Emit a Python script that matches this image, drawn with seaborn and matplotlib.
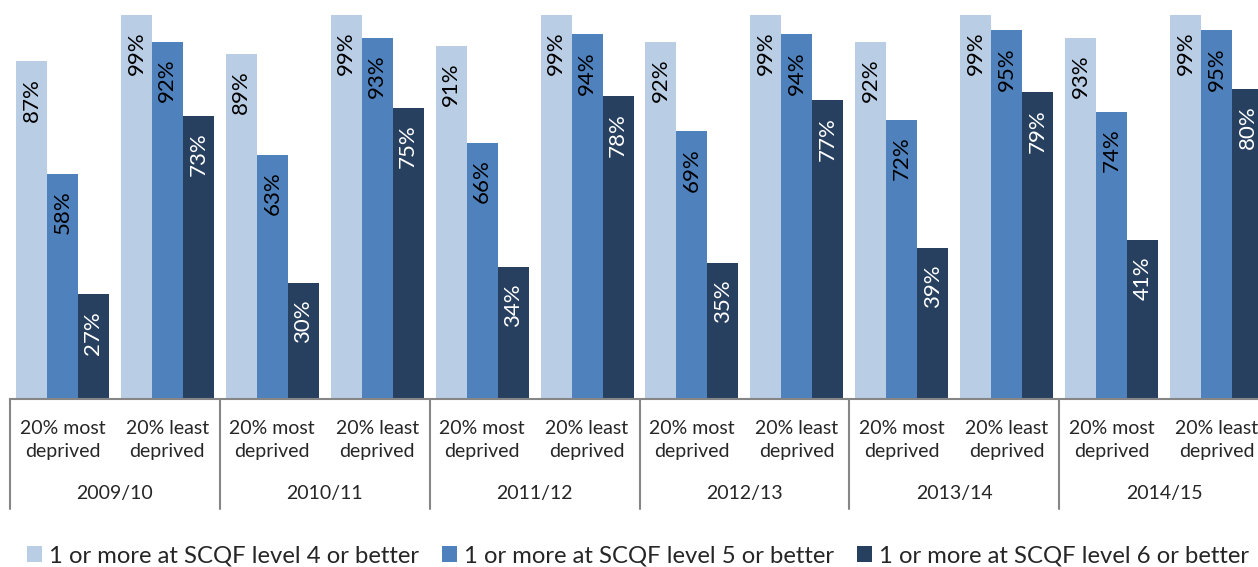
import pandas as pd
import numpy as np
import seaborn as sns
import matplotlib.pyplot as plt
import matplotlib.transforms as mtransforms

# Dados do gráfico (percentagens)
years = ['2009/10', '2010/11', '2011/12', '2012/13', '2013/14', '2014/15']
groups = ['20% most\ndeprived', '20% least\ndeprived']
series = ['1 or more at SCQF level 4 or better',
          '1 or more at SCQF level 5 or better',
          '1 or more at SCQF level 6 or better']

lvl4_most = [87, 89, 91, 92, 92, 93]
lvl4_least = [99, 99, 99, 99, 99, 99]
lvl5_most = [58, 63, 66, 69, 72, 74]
lvl5_least = [92, 93, 94, 94, 95, 95]
lvl6_most = [27, 30, 34, 35, 39, 41]
lvl6_least = [73, 75, 78, 77, 79, 80]

colors = ['#B9CDE5', '#4F81BD', '#27405F']
label_colors = ['black', 'black', 'white']

# Montar tabela longa
rows = []
values = {series[0]: (lvl4_most, lvl4_least),
          series[1]: (lvl5_most, lvl5_least),
          series[2]: (lvl6_most, lvl6_least)}
order = []
for i, y in enumerate(years):
    for j, g in enumerate(groups):
        cat = f'{y}|{j}'
        order.append(cat)
        for s in series:
            rows.append({'cat': cat, 'serie': s, 'valor': values[s][j][i] / 100})
df = pd.DataFrame(rows)

sns.set_style('white')
plt.rcParams['font.family'] = ['Lato', 'DejaVu Sans']

fig = plt.figure(figsize=(12.58, 5.67), dpi=100)
W, H = 1258, 567
ax = fig.add_axes([10 / W, (H - 399) / H, 1259 / W, 388 / H])

sns.barplot(data=df, x='cat', y='valor', hue='serie', order=order, hue_order=series,
            palette=colors, width=0.886, saturation=1, ax=ax, errorbar=None,
            edgecolor='none')
ax.set_ylim(0, 1.0)
ax.set_xlim(-0.5, 11.5)

# Rótulos dos dados (rotacionados dentro da barra)
for k, cont in enumerate(ax.containers):
    for bar in cont:
        h = bar.get_height()
        ax.annotate(f'{h * 100:.0f}%', (bar.get_x() + bar.get_width() / 2, h),
                    xytext=(0, -12), textcoords='offset points', rotation=90,
                    ha='center', va='top', fontsize=16, color=label_colors[k])

# Eixos
for sp in ['left', 'right', 'top']:
    ax.spines[sp].set_visible(False)
ax.spines['bottom'].set_color('#868686')
ax.spines['bottom'].set_linewidth(1.5)
ax.set_yticks([])
ax.set_xticks([])
ax.set_xlabel('')
ax.set_ylabel('')

trans = mtransforms.blended_transform_factory(ax.transData, ax.transAxes)
for i, y in enumerate(years):
    for j, g in enumerate(groups):
        ax.text(2 * i + j, (399 - 440) / 388, g, transform=trans, ha='center',
                va='center', fontsize=14, linespacing=1.45, clip_on=False)
    ax.text(2 * i + 0.5, (399 - 494) / 388, y, transform=trans, ha='center',
            va='center', fontsize=14, clip_on=False)
for i in range(len(years) + 1):
    ax.plot([2 * i - 0.5] * 2, [0, (399 - 509) / 388], transform=trans,
            color='#868686', lw=1.5, clip_on=False)

# Legenda
handles, labels = ax.get_legend_handles_labels()
ax.get_legend().remove()
fig.legend(handles, labels, loc='center left', bbox_to_anchor=(27 / W, 1 - 556 / H),
           ncol=3, frameon=False, fontsize=17.2, handlelength=0.63, handleheight=0.63,
           handletextpad=0.3, columnspacing=0.95, borderpad=0, borderaxespad=0)

fig.savefig('out.png', dpi=100)
